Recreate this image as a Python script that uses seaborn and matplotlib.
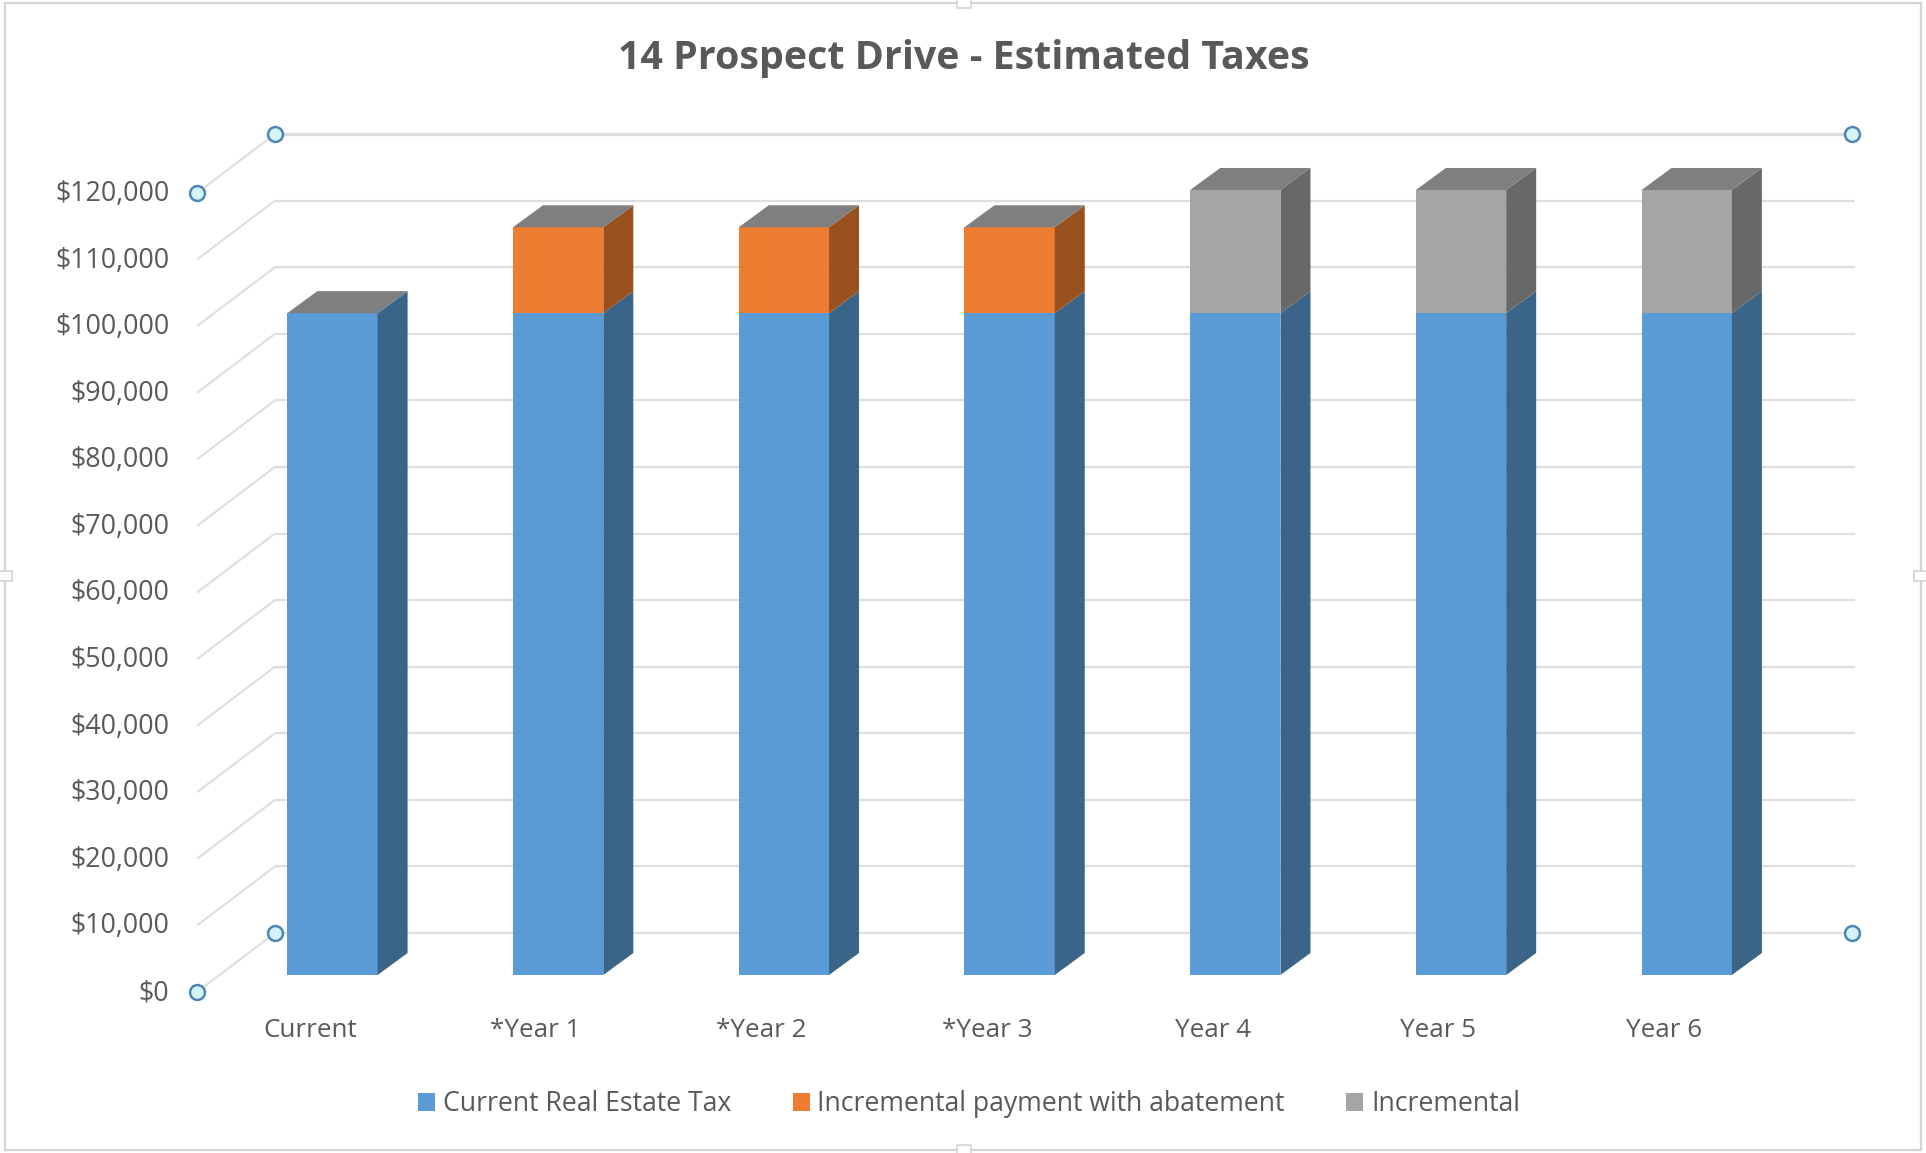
import matplotlib
matplotlib.use("Agg")
import matplotlib.pyplot as plt
from matplotlib.patches import Patch, Polygon, Rectangle
from matplotlib.ticker import FuncFormatter
from matplotlib.transforms import Affine2D
import numpy as np
import pandas as pd
import seaborn as sns

categories = ["Current", "*Year 1", "*Year 2", "*Year 3", "Year 4", "Year 5", "Year 6"]
current_tax = [99400, 99400, 99400, 99400, 99400, 99400, 99400]
abatement_payment = [0, 12900, 12900, 12900, 0, 0, 0]
incremental = [0, 0, 0, 0, 18500, 18500, 18500]
series_names = ["Current Real Estate Tax", "Incremental payment with abatement", "Incremental"]
value_ticks = list(range(0, 130000, 10000))
chart_title = "14 Prospect Drive - Estimated Taxes"

FRONT_COLORS = ["#5b9bd5", "#ed7d31", "#a5a5a5"]
SIDE_COLORS = ["#3a6488", "#98511f", "#686868"]
TOP_COLOR = "#7f7f7f"
GRID_COLOR = "#dedede"
TEXT_COLOR = "#595959"

W, H = 1926, 1153
sns.set_theme(style="white")
plt.rcParams["font.family"] = ["Open Sans", "DejaVu Sans"]

fig = plt.figure(figsize=(W / 100, H / 100), dpi=100, facecolor="white")


def axes_at(left, base, width, height):
    """Add an axes given its left edge and baseline in pixels from the top."""
    return fig.add_axes([left / W, 1 - base / H, width / W, height / H])


PLOT_W, PLOT_H = 1580, 799
CAT_PX = PLOT_W / len(categories)
VAL_PX = PLOT_H / 120000

# Front plane: holds the axis labels; the wall sits behind it along the depth vector.
ax = axes_at(197, 992, PLOT_W, PLOT_H)
ax.set_xlim(-0.5, 6.5)
ax.set_ylim(0, 120000)
ax.patch.set_visible(False)
sns.despine(ax=ax, left=True, bottom=True, top=True, right=True)
ax.set_xticks(range(len(categories)), categories)
ax.set_yticks(value_ticks)
ax.yaxis.set_major_formatter(FuncFormatter(lambda v, _: f"${v:,.0f}"))
ax.tick_params(axis="x", length=0, pad=18.5, labelsize=18.7, labelcolor=TEXT_COLOR)
ax.tick_params(axis="y", length=0, pad=20, labelsize=19.3, labelcolor=TEXT_COLOR)
ax.grid(False)
for label in ax.get_yticklabels():
    label.set_transform(label.get_transform() + Affine2D().translate(0, 2.5))

wall_dx = 78 / CAT_PX
wall_dy = 59 / VAL_PX
for v in value_ticks:
    ax.plot([-0.5, -0.5 + wall_dx], [v, v + wall_dy], color=GRID_COLOR, lw=1.5,
            clip_on=False, zorder=1, solid_capstyle="butt")
    ax.plot([-0.5 + wall_dx, 6.5 + wall_dx], [v + wall_dy, v + wall_dy], color=GRID_COLOR,
            lw=1.6 if v < 120000 else 2.4, clip_on=False, zorder=1, solid_capstyle="butt")

# Selection handles on the plot-area corners.
hx = [-0.5, -0.5 + wall_dx, -0.5, -0.5 + wall_dx, 6.5 + wall_dx - 0.012, 6.5 + wall_dx - 0.012]
hy = [120000, 120000 + wall_dy, 0, wall_dy, 120000 + wall_dy, wall_dy]
ax.scatter(hx, hy, s=115, facecolor="#d3f5f8", edgecolor="#4f86b5", linewidth=1.8,
           clip_on=False, zorder=5)

# Bar plane, part-way into the depth of the chart.
ax_bars = axes_at(219.6, 975, PLOT_W, PLOT_H)
ax_bars.patch.set_visible(False)
table = pd.DataFrame({"category": categories, "current": current_tax,
                      "abated": abatement_payment, "incremental": incremental})
bottoms = np.zeros(len(categories))
for col, color in zip(["current", "abated", "incremental"], FRONT_COLORS):
    sns.barplot(data=table, x="category", y=col, bottom=bottoms, color=color, saturation=1,
                width=0.40, linewidth=0, ax=ax_bars)
    bottoms = bottoms + table[col].to_numpy()
ax_bars.set_xlim(-0.5, 6.5)
ax_bars.set_ylim(0, 120000)
ax_bars.axis("off")

# Side and top faces extruded from each front rectangle.
bar_dx = 30 / CAT_PX
bar_dy = 22 / VAL_PX
totals = bottoms
for container, side in zip(ax_bars.containers, SIDE_COLORS):
    for i, bar in enumerate(container):
        h = bar.get_height()
        if h <= 0:
            continue
        x1 = bar.get_x() + bar.get_width()
        y0 = bar.get_y()
        y1 = y0 + h
        ax_bars.add_patch(Polygon([(x1, y0), (x1 + bar_dx, y0 + bar_dy),
                                   (x1 + bar_dx, y1 + bar_dy), (x1, y1)],
                                  facecolor=side, edgecolor="none", clip_on=False))
        if y1 >= totals[i]:
            x0 = bar.get_x()
            ax_bars.add_patch(Polygon([(x0, y1), (x1, y1), (x1 + bar_dx, y1 + bar_dy),
                                       (x0 + bar_dx, y1 + bar_dy)],
                                      facecolor=TOP_COLOR, edgecolor="none", clip_on=False))

fig.text(964 / W, 1 - 59 / H, chart_title, ha="center", va="center", fontsize=28.4,
         fontweight="bold", color=TEXT_COLOR)

handles = [Patch(facecolor=c, edgecolor="none") for c in FRONT_COLORS]
fig.legend(handles, series_names, loc="center", bbox_to_anchor=(969 / W, 1 - 1104 / H),
           ncol=3, frameon=False, fontsize=19.2, labelcolor=TEXT_COLOR, handlelength=0.65,
           handleheight=0.65, handletextpad=0.28, columnspacing=2.3)

# Chart-area frame with its small sizing notches.
fig.add_artist(Rectangle((5 / W, 1 - 1150 / H), 1916 / W, 1147 / H, transform=fig.transFigure,
                         facecolor="none", edgecolor="#d4d4d4", lw=1.6))
for px, py in [(964, 3), (964, 1150), (5, 576), (1921, 576)]:
    fig.add_artist(Rectangle(((px - 7) / W, 1 - (py + 5) / H), 14 / W, 10 / H,
                             transform=fig.transFigure, facecolor="white",
                             edgecolor="#d4d4d4", lw=1.2))

fig.savefig("out.png", dpi=100)
